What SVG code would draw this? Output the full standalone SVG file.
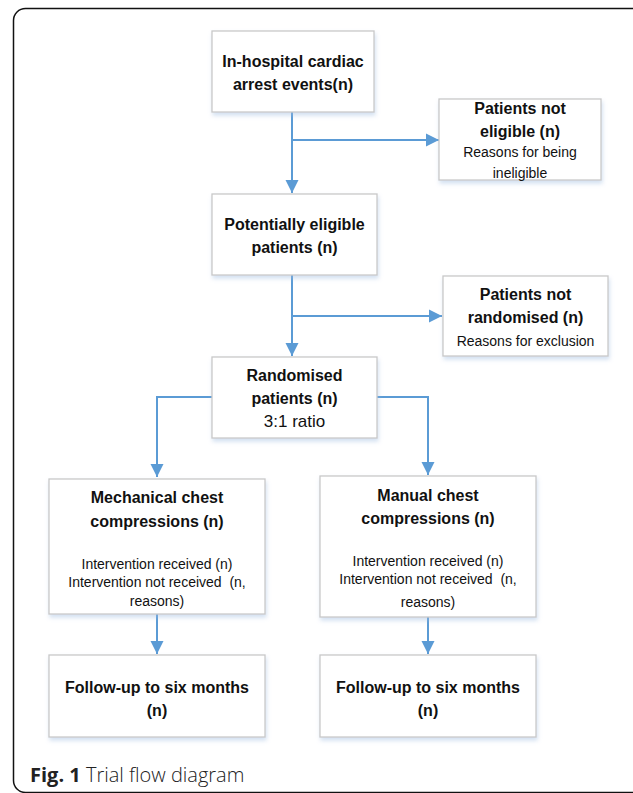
<svg xmlns="http://www.w3.org/2000/svg" width="633" height="793" viewBox="0 0 633 793">
<style>
.box{fill:#fff;stroke:#c9c9c9;stroke-width:1.3;filter:url(#sh)}
.b{font-family:"Liberation Sans",Arial,sans-serif;font-weight:bold;font-size:16px;fill:#111;text-anchor:middle}
.s{font-family:"Liberation Sans",Arial,sans-serif;font-size:14px;fill:#111;text-anchor:middle}
.c{fill:none;stroke:#5b9bd5;stroke-width:2}
</style>
<defs>
<filter id="sh" x="-10%" y="-10%" width="130%" height="130%">
<feDropShadow dx="1" dy="3" stdDeviation="2" flood-color="#9dbbe0" flood-opacity="0.45"/>
</filter>
<marker id="ah" markerUnits="userSpaceOnUse" markerWidth="14" markerHeight="14" viewBox="0 0 14 14" refX="13" refY="7" orient="auto">
<path d="M0,0.5 L13,7 L0,13.5 Z" fill="#5b9bd5"/>
</marker>
</defs>
<rect x="13.5" y="8.5" width="700" height="784" rx="12" fill="#fff" stroke="#111" stroke-width="1.5"/>
<g id="connectors">
<path class="c" d="M292,112 V193" marker-end="url(#ah)"/>
<path class="c" d="M292,140 H439" marker-end="url(#ah)"/>
<path class="c" d="M292,275 V356" marker-end="url(#ah)"/>
<path class="c" d="M292,316 H442" marker-end="url(#ah)"/>
<path class="c" d="M212,397 H157 V477" marker-end="url(#ah)"/>
<path class="c" d="M377,397 H428 V475" marker-end="url(#ah)"/>
<path class="c" d="M157,614 V654" marker-end="url(#ah)"/>
<path class="c" d="M428,617 V654" marker-end="url(#ah)"/>
</g>
<g id="n1">
<rect class="box" x="212" y="31" width="162" height="81"/>
<text class="b" x="293" y="67">In-hospital cardiac</text>
<text class="b" x="293" y="90">arrest events(n)</text>
</g>
<g id="n2">
<rect class="box" x="439" y="99" width="162" height="81"/>
<text class="b" x="520" y="114">Patients not</text>
<text class="b" x="520" y="137">eligible (n)</text>
<text class="s" x="520" y="157">Reasons for being</text>
<text class="s" x="520" y="178">ineligible</text>
</g>
<g id="n3">
<rect class="box" x="212" y="194" width="165" height="81"/>
<text class="b" x="294.5" y="230">Potentially eligible</text>
<text class="b" x="294.5" y="253">patients (n)</text>
</g>
<g id="n4">
<rect class="box" x="443" y="276" width="165" height="80"/>
<text class="b" x="525.5" y="300">Patients not</text>
<text class="b" x="525.5" y="323">randomised (n)</text>
<text class="s" x="525.5" y="346">Reasons for exclusion</text>
</g>
<g id="n5">
<rect class="box" x="212" y="357" width="165" height="81"/>
<text class="b" x="294.5" y="381">Randomised</text>
<text class="b" x="294.5" y="404">patients (n)</text>
<text class="s" x="294.5" y="427" style="font-size:17px">3:1 ratio</text>
</g>
<g id="n6">
<rect class="box" x="49" y="479" width="216" height="135"/>
<text class="b" x="157" y="503">Mechanical chest</text>
<text class="b" x="157" y="527">compressions (n)</text>
<text class="s" x="157" y="569">Intervention received (n)</text>
<text class="s" x="157" y="587">Intervention not received &#160;(n,</text>
<text class="s" x="157" y="606">reasons)</text>
</g>
<g id="n7">
<rect class="box" x="320" y="476" width="216" height="141"/>
<text class="b" x="428" y="501">Manual chest</text>
<text class="b" x="428" y="524">compressions (n)</text>
<text class="s" x="428" y="566">Intervention received (n)</text>
<text class="s" x="428" y="584">Intervention not received &#160;(n,</text>
<text class="s" x="428" y="607">reasons)</text>
</g>
<g id="n8">
<rect class="box" x="49" y="655" width="216" height="82"/>
<text class="b" x="157" y="693">Follow-up to six months</text>
<text class="b" x="157" y="716">(n)</text>
</g>
<g id="n9">
<rect class="box" x="320" y="655" width="216" height="82"/>
<text class="b" x="428" y="693">Follow-up to six months</text>
<text class="b" x="428" y="716">(n)</text>
</g>
<text x="30" y="782" font-family="'Open Sans','Liberation Sans',sans-serif" font-size="20" fill="#222"><tspan font-weight="bold">Fig. 1</tspan><tspan font-weight="300"> Trial flow diagram</tspan></text>
</svg>
